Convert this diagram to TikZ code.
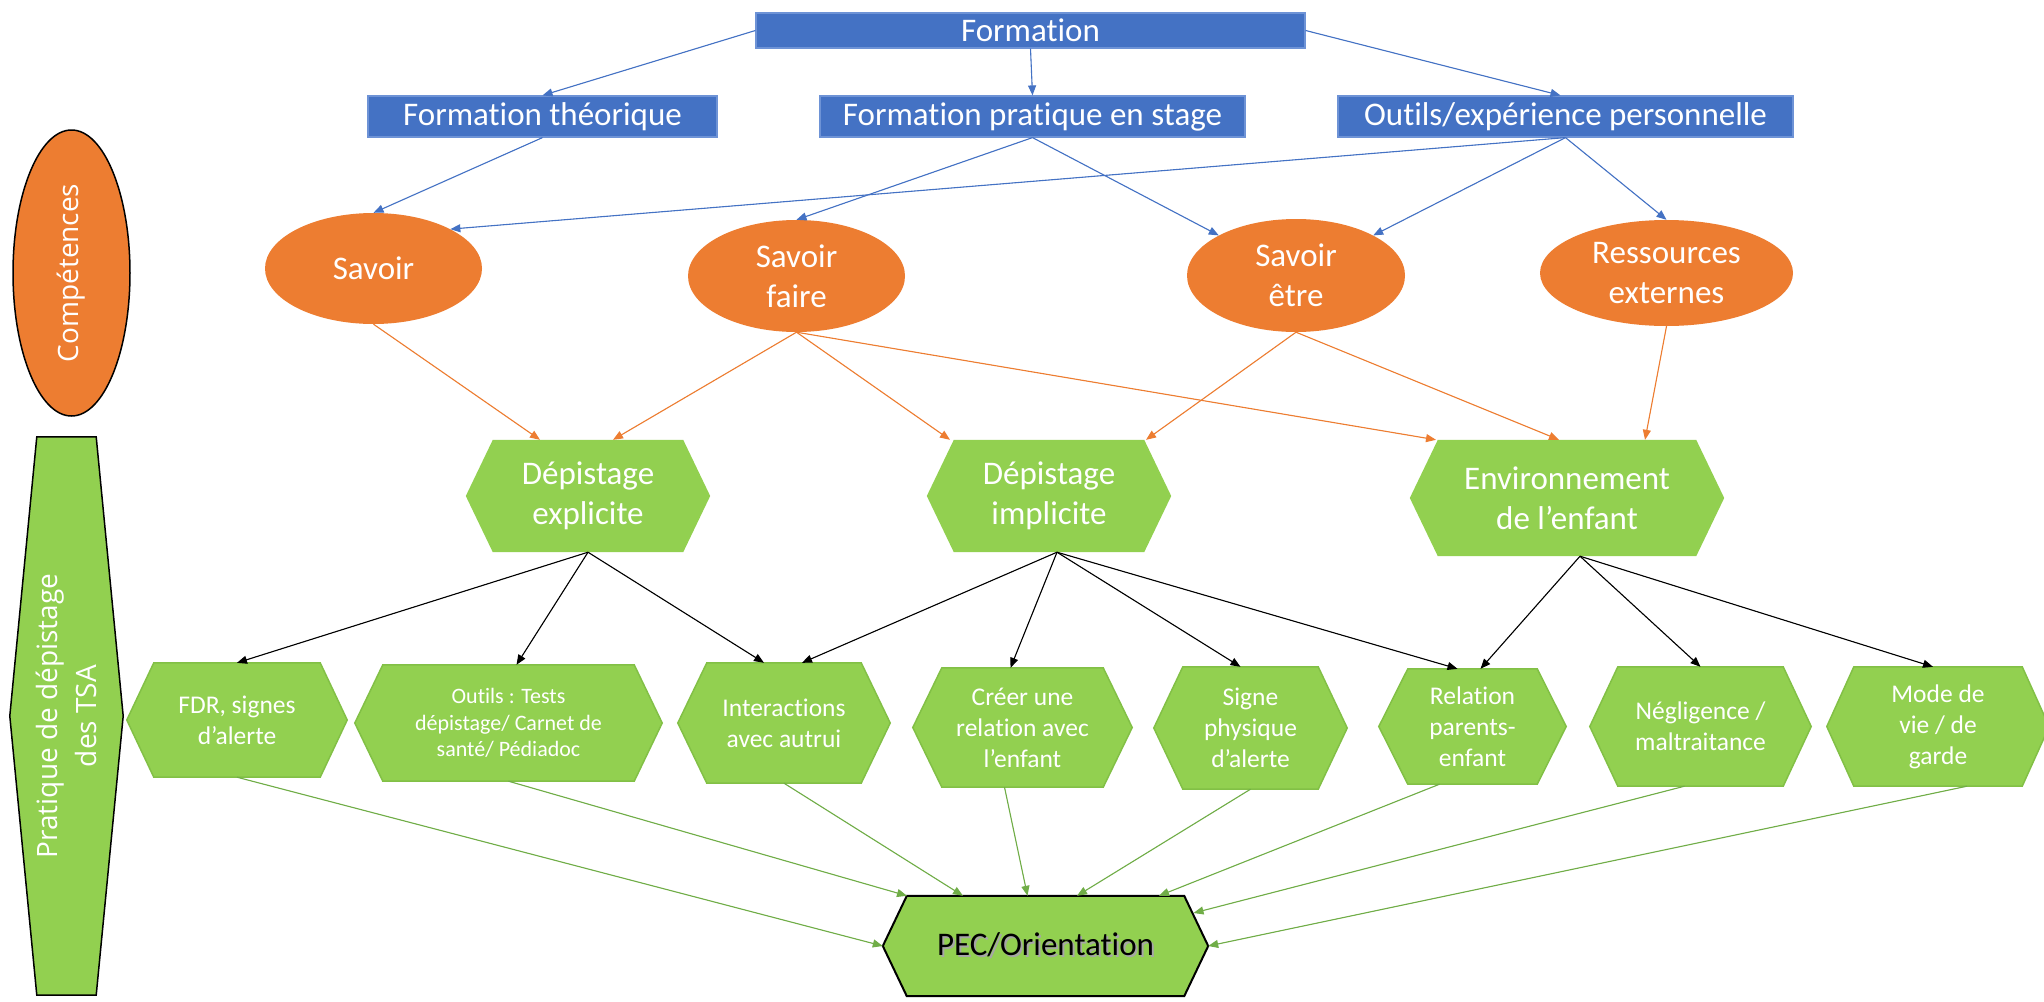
\documentclass[tikz,border=0pt]{standalone}
\usepackage{fontspec}
\setmainfont{Carlito}[Ligatures={NoCommon}]
\newfontfamily\osans{Open Sans}
\usetikzlibrary{shapes.geometric,arrows.meta,calc}
\pgfdeclarelayer{background}
\pgfsetlayers{background,main}
\definecolor{cblue}{HTML}{4472C4}
\definecolor{cblueline}{HTML}{6E93D6}
\definecolor{corange}{HTML}{ED7D31}
\definecolor{cgreen}{HTML}{92D050}
\definecolor{cgreenline}{HTML}{82C046}
\definecolor{carrgreen}{HTML}{70AD47}
\newcommand\bigf{\fontsize{33}{40}\selectfont}
\newcommand\midf{\fontsize{25.5}{31}\selectfont}
\newcommand\smlf{\fontsize{22}{26.7}\selectfont}
\newcommand\hexpath[3]{\path[#3] (#1.west) -- ([xshift=#2]#1.north west) -- ([xshift=-#2]#1.north east) -- (#1.east) -- ([xshift=-#2]#1.south east) -- ([xshift=#2]#1.south west) -- cycle;}
\begin{document}
\begin{tikzpicture}[x=1pt,y=-1pt,
  bbox/.style={rectangle, fill=cblue, draw=cblueline, line width=1.2pt, text=white, font=\bigf, inner sep=0pt},
  ell/.style={ellipse, fill=corange, text=white, font=\bigf, inner sep=0pt, align=center},
  hexbox/.style={rectangle, inner sep=0pt, text=white, align=center},
  tip/.style={-{Triangle[length=10pt,width=8pt]}, line width=1.1pt},
  ba/.style={tip, draw=cblue, fill=cblue},
  oa/.style={tip, draw=corange, fill=corange},
  ka/.style={tip, draw=black, fill=black},
  ga/.style={tip, draw=carrgreen, fill=carrgreen}]
\useasboundingbox (0,0) rectangle (2044,1001);

% top boxes
\node[bbox, minimum width=549pt, minimum height=35pt] (form) at (1030.5,30.5) {Formation};
\node[bbox, minimum width=349pt, minimum height=41pt] (ft) at (542.5,116.5) {Formation théorique};
\node[bbox, minimum width=425pt, minimum height=41pt] (fps) at (1032.5,116.5) {Formation pratique en stage};
\node[bbox, minimum width=455pt, minimum height=41pt] (fop) at (1565.5,116.5) {Outils/expérience personnelle};

% competences
\node[ell, minimum width=217pt, minimum height=111pt] (sav) at (373.5,268.5) {Savoir};
\node[ell, minimum width=217pt, minimum height=112pt] (savf) at (796.5,276) {Savoir\\faire};
\node[ell, minimum width=218pt, minimum height=113pt] (save) at (1296,275.5) {Savoir\\être};
\node[ell, minimum width=253pt, minimum height=106pt] (res) at (1666.5,273) {Ressources\\externes};

% left labels
\node[ellipse, draw=black, line width=1.5pt, fill=corange, rotate=90, minimum width=286pt, minimum height=117pt, inner sep=0pt, text=white, font=\osans\fontsize{28}{34}\selectfont] (comp) at (71.5,273) {Compétences};
\node[rectangle, inner sep=0pt, minimum width=113pt, minimum height=558pt] (prat) at (66.5,716) {};
\node[rotate=90, text=white, align=center, inner sep=0pt, font=\osans\fontsize{28}{39}\selectfont] (pratlbl) at (prat.center) {Pratique de dépistage\\des TSA};

% middle row
\node[hexbox, font=\bigf, minimum width=244pt, minimum height=112pt] (de) at (588,496) {Dépistage\\explicite};
\node[hexbox, font=\bigf, minimum width=244pt, minimum height=112pt] (di) at (1049,496) {Dépistage\\implicite};
\node[hexbox, font=\bigf, minimum width=314pt, minimum height=116pt] (env) at (1567,498) {Environnement\\de l’enfant};

% bottom row
\node[hexbox, font=\midf, minimum width=220pt, minimum height=114pt] (fdr) at (237,720) {FDR, signes\\d’alerte};
\node[hexbox, font=\smlf, minimum width=307pt, minimum height=116pt] (out) at (508.5,723) {Outils : Tests\\dépistage/ Carnet de\\santé/ Pédiadoc};
\node[hexbox, font=\midf, minimum width=212pt, minimum height=120pt] (inter) at (784,723) {Interactions\\avec autrui};
\node[hexbox, font=\midf, minimum width=219pt, minimum height=119pt] (creer) at (1022.5,727.5) {Créer une\\relation avec\\l’enfant};
\node[hexbox, font=\midf, minimum width=193pt, minimum height=122pt] (signe) at (1250.5,728) {Signe\\physique\\d’alerte};
\node[hexbox, font=\midf, minimum width=187pt, minimum height=115pt] (rel) at (1472.5,726.5) {Relation\\parents-\\enfant};
\node[hexbox, font=\midf, minimum width=221pt, minimum height=119pt] (neg) at (1700.5,726.5) {Négligence /\\maltraitance};
\node[hexbox, font=\midf, minimum width=222pt, minimum height=119pt] (mode) at (1938,726.5) {Mode de\\vie / de\\garde};

% final
\node[hexbox, text=black, font=\bigf, minimum width=325pt, minimum height=100pt] (pec) at (1045.5,946) {\rlap{\hspace{2pt}\raisebox{-2pt}{\color{black!35}PEC/Orientation}}PEC/Orientation};

\begin{pgfonlayer}{background}
  \fill[white] (0,0) rectangle (2044,1001);
  \path[fill=cgreen, draw=black, line width=1.5pt] ([xshift=27]prat.north west) -- ([xshift=-27]prat.north east) -- (prat.east) -- ([xshift=-27]prat.south east) -- ([xshift=27]prat.south west) -- (prat.west) -- cycle;
  \hexpath{de}{27}{fill=cgreen}
  \hexpath{di}{27}{fill=cgreen}
  \hexpath{env}{28}{fill=cgreen}
  \hexpath{fdr}{27}{fill=cgreen, draw=cgreenline, line width=1.5pt}
  \hexpath{out}{28}{fill=cgreen, draw=cgreenline, line width=1.5pt}
  \hexpath{inter}{29}{fill=cgreen, draw=cgreenline, line width=1.5pt}
  \hexpath{creer}{29}{fill=cgreen, draw=cgreenline, line width=1.5pt}
  \hexpath{signe}{29}{fill=cgreen, draw=cgreenline, line width=1.5pt}
  \hexpath{rel}{29}{fill=cgreen, draw=cgreenline, line width=1.5pt}
  \hexpath{neg}{28}{fill=cgreen, draw=cgreenline, line width=1.5pt}
  \hexpath{mode}{27}{fill=cgreen, draw=cgreenline, line width=1.5pt}
  \hexpath{pec}{24}{fill=cgreen, draw=black, line width=2pt}
\end{pgfonlayer}

% blue connectors
\draw[ba] (form.west) -- (ft.north);
\draw[ba] (form.south) -- (fps.north);
\draw[ba] (form.east) -- ([xshift=-5]fop.north);
\draw[ba] (ft.south) -- (sav.north);
\draw[ba] (fps.south) -- (savf.north);
\draw[ba] (fps.south) -- (save.north west);
\draw[ba] (fop.south) -- (sav.north east);
\draw[ba] (fop.south) -- (save.north east);
\draw[ba] (fop.south) -- (res.north);

% orange connectors
\draw[oa] (sav.south) -- ([xshift=-48]de.north);
\draw[oa] (savf.south) -- ([xshift=25]de.north);
\draw[oa] (savf.south) -- ([xshift=-99]di.north);
\draw[oa] (savf.south) -- ([xshift=-131]env.north);
\draw[oa] (save.south) -- ([xshift=97]di.north);
\draw[oa] (save.south) -- ([xshift=-8]env.north);
\draw[oa] (res.south) -- ([xshift=78]env.north);

% black connectors
\draw[ka] (de.south) -- (fdr.north);
\draw[ka] (de.south) -- ([xshift=8]out.north);
\draw[ka] (de.south) -- ([xshift=-20]inter.north);
\draw[ka] ([xshift=8]di.south) -- ([xshift=18]inter.north);
\draw[ka] ([xshift=8]di.south) -- ([xshift=-12]creer.north);
\draw[ka] ([xshift=8]di.south) -- ([xshift=-10]signe.north);
\draw[ka] ([xshift=8]di.south) -- ([xshift=-15]rel.north);
\draw[ka] ([xshift=13]env.south) -- ([xshift=8]rel.north);
\draw[ka] ([xshift=13]env.south) -- (neg.north);
\draw[ka] ([xshift=13]env.south) -- ([xshift=-5]mode.north);

% green connectors
\draw[ga] (fdr.south) -- (pec.west);
\draw[ga] (out.south) -- ([xshift=-138.5]pec.north);
\draw[ga] (inter.south) -- ([xshift=-82.5]pec.north);
\draw[ga] ([xshift=-18]creer.south) -- ([xshift=-18]pec.north);
\draw[ga] (signe.south) -- ([xshift=31.5]pec.north);
\draw[ga] ([xshift=-33]rel.south) -- ([xshift=113.5]pec.north);
\draw[ga] ([xshift=-16]neg.south) -- ([xshift=148,yshift=33]pec.center);
\draw[ga] ([xshift=29]mode.south) -- (pec.east);
\end{tikzpicture}
\end{document}
